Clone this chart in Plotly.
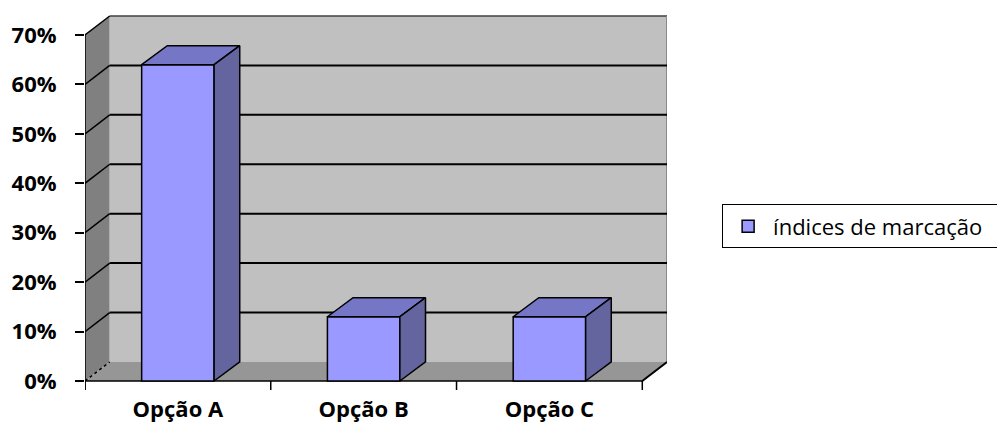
import plotly.graph_objects as go

# ---- data ----
categories = ["Opção A", "Opção B", "Opção C"]
values = [0.64, 0.13, 0.13]
series_name = "índices de marcação"
y_ticks = [0.0, 0.1, 0.2, 0.3, 0.4, 0.5, 0.6, 0.7]

# ---- geometry (in data units) ----
n = len(categories)
X0, X1 = -0.5, n - 0.5
YTOP = max(y_ticks)
DX, DY = 0.133, 0.0385      # 3D depth offset
BAR_W = 0.39
BDX = 0.138
YMIN, YMAX = -0.0182, 0.7425
XMAX = X1 + DX

WALL_BACK = "#C0C0C0"
WALL_LEFT = "#808080"
FLOOR = "#969696"
BAR_FRONT = "#9999FF"
BAR_TOP = "#7676C6"
BAR_SIDE = "#64649E"

FONT = "Open Sans"

fig = go.Figure()

def poly(xs, ys, color, line_color=None, lw=0, axes=("x", "y")):
    fig.add_trace(go.Scatter(
        x=xs, y=ys, mode="lines", fill="toself", fillcolor=color,
        line=dict(color=line_color or color, width=lw),
        hoverinfo="skip", showlegend=False, xaxis=axes[0], yaxis=axes[1]))

def lines(xs, ys, color, lw, dash="solid", axes=("x", "y")):
    fig.add_trace(go.Scatter(
        x=xs, y=ys, mode="lines", line=dict(color=color, width=lw, dash=dash),
        hoverinfo="skip", showlegend=False, xaxis=axes[0], yaxis=axes[1]))

# left wall
poly([X0, X0, X0 + DX, X0 + DX, X0], [0, YTOP, YTOP + DY, DY, 0], WALL_LEFT)
# floor
poly([X0, X1, X1 + DX, X0 + DX, X0], [0, 0, DY, DY, 0], FLOOR)
# back wall
poly([X0 + DX, X1 + DX, X1 + DX, X0 + DX, X0 + DX],
     [DY, DY, YTOP + DY, YTOP + DY, DY], WALL_BACK)
# back wall border (top dark, right grey)
lines([X0 + DX, X1 + DX], [YTOP + DY, YTOP + DY], "#404040", 1.5)
lines([X1 + DX, X1 + DX], [YTOP + DY, DY], "#8a8a8a", 2)

# gridlines on back wall + left wall diagonals
gx, gy, dxs, dys = [], [], [], []
for v in y_ticks[1:]:
    if v < YTOP:
        gx += [X0 + DX, X1 + DX, None]
        gy += [v + DY, v + DY, None]
    dxs += [X0, X0 + DX, None]
    dys += [v, v + DY, None]
lines(gx, gy, "#000000", 2)
lines(dxs, dys, "#000000", 1.5)
# dotted floor edge at left
lines([X0, X0 + DX], [0, DY], "#000000", 1.5, dash="dot")
# right floor diagonal
lines([X1, X1 + DX], [0, DY], "#000000", 2)
# front axis lines
lines([X0, X0], [YMIN, YTOP], "#000000", 1.5)
lines([X0, X1], [0, 0], "#000000", 1.5)
# category tick marks
tx, ty = [], []
for i in range(n + 1):
    tx += [X0 + i, X0 + i, None]
    ty += [0, YMIN, None]
lines(tx, ty, "#000000", 1.5)

# ---- bars (overlay axes so they are on top) ----
xs = list(range(n))
fig.add_trace(go.Bar(
    x=xs, y=values, width=BAR_W, name=series_name,
    marker=dict(color=BAR_FRONT, line=dict(color="#000000", width=1.5)),
    xaxis="x2", yaxis="y2", showlegend=True, hoverinfo="skip"))

topx, topy, sidex, sidey = [], [], [], []
for x, v in zip(xs, values):
    xl, xr = x - BAR_W / 2, x + BAR_W / 2
    topx += [xl, xl + BDX, xr + BDX, xr, xl, None]
    topy += [v, v + DY, v + DY, v, v, None]
    sidex += [xr, xr + BDX, xr + BDX, xr, xr, None]
    sidey += [0, DY, v + DY, v, 0, None]
poly(topx, topy, BAR_TOP, "#000000", 1.5, axes=("x2", "y2"))
poly(sidex, sidey, BAR_SIDE, "#000000", 1.5, axes=("x2", "y2"))

# ---- layout ----
tick_font = dict(family=FONT, size=22, color="#000000", weight="bold")
fig.update_layout(
    width=997, height=426,
    margin=dict(l=85, r=330, t=14, b=36, autoexpand=False),
    paper_bgcolor="#FFFFFF", plot_bgcolor="rgba(0,0,0,0)",
    barmode="overlay",
    xaxis=dict(range=[X0, XMAX], tickvals=xs, ticktext=categories,
               ticks="", showgrid=False, zeroline=False, showline=False,
               tickfont=tick_font, ticklabelstandoff=4, automargin=False,
               fixedrange=True),
    yaxis=dict(range=[YMIN, YMAX], tickvals=y_ticks, tickformat=".0%",
               ticks="outside", ticklen=9, tickwidth=1.5, tickcolor="#000000",
               showgrid=False, zeroline=False, showline=False,
               tickfont=tick_font, ticklabelstandoff=14, automargin=False,
               fixedrange=True),
    xaxis2=dict(range=[X0, XMAX], overlaying="x", visible=False, fixedrange=True),
    yaxis2=dict(range=[YMIN, YMAX], overlaying="y", visible=False, fixedrange=True),
    legend=dict(x=1.0947, xanchor="left", y=0.435, yanchor="middle",
                orientation="h", entrywidth=300, itemwidth=40,
                bgcolor="#FFFFFF", bordercolor="#000000", borderwidth=1,
                font=dict(family=FONT, size=22, color="#000000")),
    showlegend=True,
)

fig.write_html("out.html")
